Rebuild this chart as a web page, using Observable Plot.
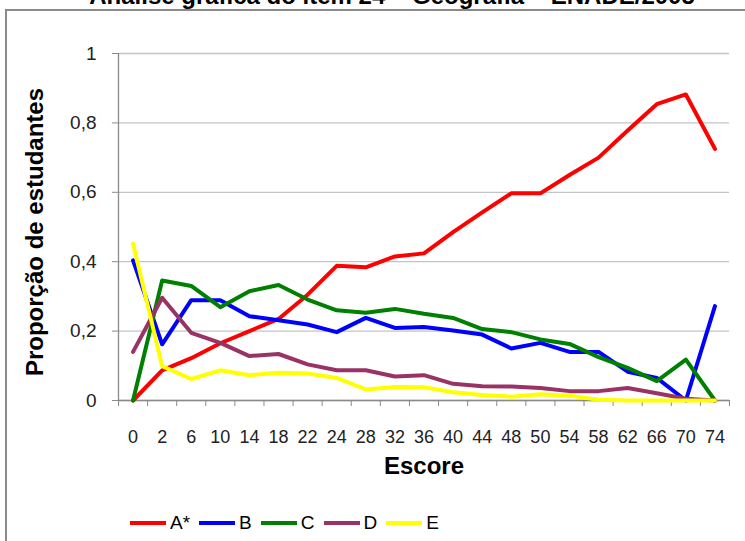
<!DOCTYPE html>
<html><head><meta charset="utf-8">
<script src="https://cdn.jsdelivr.net/npm/d3@7"></script>
<script src="https://cdn.jsdelivr.net/npm/@observablehq/plot@0.6"></script>
<style>
body{margin:0;background:#fff;font-family:Arial,"Liberation Sans",sans-serif;}
#wrap{position:relative;width:745px;height:541px;overflow:hidden;}
#frame{position:absolute;left:5px;top:9px;width:900px;height:700px;border-left:2px solid #8a8a8a;border-top:2px solid #8a8a8a;}
#title{position:absolute;left:0;width:784px;text-align:center;top:-16px;font-weight:bold;font-size:24px;line-height:24px;white-space:nowrap;color:#000;}
#ylabel{position:absolute;left:-165px;top:216px;width:400px;height:32px;line-height:32px;text-align:center;font-weight:bold;font-size:24px;color:#000;transform:rotate(-90deg);white-space:nowrap;}
#chart{position:absolute;left:0;top:0;}
#legend{position:absolute;top:512px;left:130px;display:flex;align-items:center;font-size:19px;color:#000;}
.item{display:flex;align-items:center;margin-right:9px;}
.item svg{margin-right:4px;}
</style></head>
<body>
<div id="wrap">
  <div id="frame"></div>
  <div id="title">Análise gráfica do item 24 – Geografia – ENADE/2005</div>
  <div id="chart"></div>
  <div id="ylabel">Proporção de estudantes</div>
  <div id="legend"></div>
</div>
<script>
const scores = ["0","2","6","10","14","18","22","24","28","32","36","40","44","48","50","54","58","62","66","70","74"];
const seriesNames = ["A*","B","C","D","E"];
const valuesA = [0, 0.087, 0.122, 0.165, 0.2, 0.235, 0.305, 0.388, 0.384, 0.415, 0.424, 0.485, 0.542, 0.597, 0.597, 0.65, 0.70, 0.778, 0.854, 0.882, 0.725];
const valuesB = [0.404, 0.162, 0.289, 0.289, 0.243, 0.231, 0.219, 0.197, 0.238, 0.209, 0.212, 0.202, 0.19, 0.15, 0.166, 0.14, 0.14, 0.083, 0.065, 0.0, 0.272];
const valuesC = [0, 0.346, 0.33, 0.269, 0.315, 0.333, 0.291, 0.26, 0.253, 0.264, 0.25, 0.238, 0.206, 0.197, 0.176, 0.163, 0.125, 0.094, 0.056, 0.118, 0];
const valuesD = [0.14, 0.296, 0.195, 0.166, 0.128, 0.134, 0.104, 0.087, 0.087, 0.069, 0.073, 0.048, 0.041, 0.04, 0.036, 0.027, 0.027, 0.036, 0.021, 0.005, 0];
const valuesE = [0.452, 0.099, 0.062, 0.087, 0.073, 0.08, 0.078, 0.065, 0.032, 0.039, 0.038, 0.024, 0.016, 0.011, 0.018, 0.014, 0.002, 0, 0, 0, 0];
const yTicks = [0, 0.2, 0.4, 0.6, 0.8, 1];
const colors = ["#ff0000", "#0000ff", "#008000", "#993366", "#ffff00"];

const allValues = [valuesA, valuesB, valuesC, valuesD, valuesE];
const data = seriesNames.flatMap((name, s) => allValues[s].map((v, i) => ({series: name, i, v})));
const idx = d3.range(scores.length);
const bounds = d3.range(scores.length + 1).map(k => k - 0.5);

const chart = Plot.plot({
  width: 745, height: 490,
  marginLeft: 118, marginRight: 16, marginTop: 53, marginBottom: 90,
  style: {fontFamily: "Arial, 'Liberation Sans', sans-serif", color: "#222", background: "transparent"},
  x: {type: "linear", domain: [-0.5, scores.length - 0.5]},
  y: {domain: [0, 1]},
  color: {domain: seriesNames, range: colors},
  marks: [
    Plot.gridY(yTicks, {stroke: "#c4c4c4", strokeOpacity: 1, strokeWidth: 1.3}),
    Plot.axisY(yTicks, {tickFormat: d => String(d).replace(".", ","), tickSize: 6, tickPadding: 16, fontSize: 19, label: null, stroke: "#8a8a8a"}),
    Plot.ruleX([-0.5], {stroke: "#8a8a8a", strokeWidth: 1.3}),
    Plot.ruleY([0], {stroke: "#8a8a8a", strokeWidth: 1.3}),
    Plot.axisX(bounds, {tickFormat: () => "", tickSize: 6, label: null, stroke: "#8a8a8a"}),
    Plot.axisX(idx, {tickFormat: i => scores[i], tickSize: 0, tickPadding: 30, fontSize: 18, label: null}),
    Plot.lineY(data, {x: "i", y: "v", z: "series", stroke: "series", strokeWidth: 4, strokeLinejoin: "round"}),
    Plot.text(["Escore"], {frameAnchor: "bottom", dy: 73, fontSize: 24, fontWeight: "bold", fill: "#000"})
  ]
});
document.getElementById("chart").appendChild(chart);

const legend = document.getElementById("legend");
seriesNames.forEach((name, s) => {
  const item = document.createElement("div");
  item.className = "item";
  item.innerHTML = `<svg width="36" height="6"><line x1="0" x2="36" y1="3" y2="3" stroke="${colors[s]}" stroke-width="4"/></svg><span>${name}</span>`;
  legend.appendChild(item);
});
</script>
</body></html>
